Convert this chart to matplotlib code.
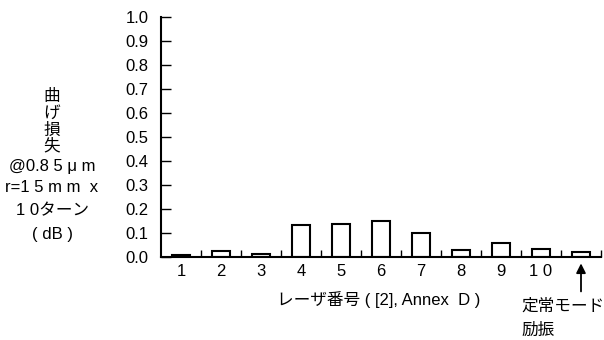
import matplotlib.pyplot as plt

plt.rcParams['font.family'] = ['Liberation Sans', 'Noto Sans CJK JP', 'DejaVu Sans']

lasers = [1, 2, 3, 4, 5, 6, 7, 8, 9, 10, 11]
loss = [0.010, 0.024, 0.011, 0.133, 0.139, 0.150, 0.099, 0.030, 0.057, 0.035, 0.022]
tick_labels = ['1', '2', '3', '4', '5', '6', '7', '8', '9', '1 0', '']
ylabel_lines = ['曲', 'げ', '損', '失', '@0.8 5 μ m', 'r=1 5 m m  x', '1 0ターン', '( dB )']

fig = plt.figure(figsize=(6.04, 3.40), dpi=100)
ax = fig.add_axes([161 / 604, 1 - 257 / 340, 440 / 604, 240 / 340])

ax.bar(lasers, loss, width=0.45, color='white', edgecolor='black', linewidth=1.5)

ax.set_xlim(0.5, 11.5)
ax.set_ylim(0, 1.0)
ax.set_yticks([i / 10 for i in range(11)])
ax.set_yticklabels(['%.1f' % (i / 10) for i in range(11)], fontsize=12)
ax.set_xticks(lasers)
ax.set_xticklabels(tick_labels, fontsize=12)
ax.set_xticks([x + 0.5 for x in lasers], minor=True)
ax.tick_params(axis='x', which='major', length=0, pad=5)
ax.tick_params(axis='x', which='minor', direction='in', length=5, width=1)
ax.tick_params(axis='y', direction='in', length=7, width=1, pad=9)

for s in ['top', 'right']:
    ax.spines[s].set_visible(False)
for s in ['left', 'bottom']:
    ax.spines[s].set_linewidth(1.5)

fig.text(379 / 604, 1 - 300 / 340, 'レーザ番号 ( [2], Annex  D )', ha='center', va='center', fontsize=12)

# y label stacked lines
ys = [97, 113, 130, 146, 166, 188, 211, 235]
for txt, yp in zip(ylabel_lines, ys):
    fig.text(52 / 604, 1 - yp / 340, txt, ha='center', va='center', fontsize=12)

# arrow for steady-state mode excitation
ax.annotate('', xy=(11, -0.015), xytext=(11, -0.155), xycoords='data',
            arrowprops=dict(arrowstyle='-|>', color='black', lw=1.3, mutation_scale=14),
            annotation_clip=False)
fig.text(521 / 604, 1 - 306 / 340, '定常モード', ha='left', va='center', fontsize=12)
fig.text(521 / 604, 1 - 330 / 340, '励振', ha='left', va='center', fontsize=12)

fig.savefig('out.png', dpi=100)
